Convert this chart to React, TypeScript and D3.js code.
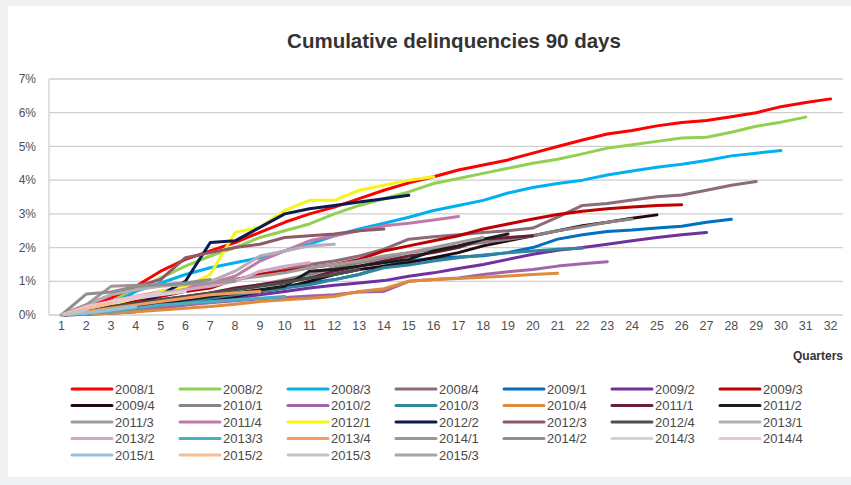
import React, { useEffect, useRef } from "react";
import * as d3 from "d3";

// x categories and y ticks
const quarters = ["1","2","3","4","5","6","7","8","9","10","11","12","13","14","15","16","17","18","19","20","21","22","23","24","25","26","27","28","29","30","31","32"];
const yTicks = [0, 1, 2, 3, 4, 5, 6, 7];
const yTickLabels = ["0%","1%","2%","3%","4%","5%","6%","7%"];

// cumulative delinquency (%) per vintage, one value per quarter since origination
const v2008_1 = [0,0.2,0.5,0.85,1.3,1.65,1.9,2.15,2.45,2.75,3.0,3.2,3.45,3.7,3.92,4.1,4.3,4.45,4.6,4.8,5.0,5.19,5.37,5.47,5.61,5.71,5.77,5.88,6.0,6.18,6.3,6.41];
const v2008_2 = [0,0.15,0.4,0.75,1.1,1.45,1.75,2.0,2.3,2.5,2.7,3.0,3.25,3.45,3.65,3.9,4.05,4.2,4.35,4.5,4.62,4.78,4.95,5.05,5.15,5.25,5.27,5.42,5.6,5.72,5.87];
const v2008_3 = [0,0.05,0.3,0.7,0.95,1.2,1.4,1.55,1.7,1.9,2.1,2.35,2.55,2.72,2.9,3.1,3.25,3.4,3.62,3.78,3.9,4.0,4.15,4.27,4.38,4.47,4.58,4.72,4.8,4.88];
const v2008_4 = [0,0.1,0.3,0.5,0.7,0.85,0.95,1.05,1.2,1.35,1.5,1.6,1.75,1.95,2.25,2.32,2.38,2.45,2.5,2.58,2.9,3.25,3.31,3.41,3.51,3.56,3.7,3.85,3.96];
const v2009_1 = [0,0.02,0.08,0.15,0.25,0.35,0.45,0.55,0.7,0.85,0.95,1.05,1.2,1.45,1.6,1.68,1.72,1.76,1.85,2.0,2.25,2.38,2.48,2.52,2.58,2.63,2.75,2.84];
const v2009_2 = [0,0.02,0.05,0.1,0.2,0.3,0.4,0.5,0.6,0.7,0.8,0.88,0.95,1.02,1.15,1.25,1.38,1.5,1.65,1.8,1.92,2.0,2.1,2.2,2.3,2.38,2.45];
const v2009_3 = [0,0.1,0.25,0.4,0.55,0.7,0.8,1.05,1.2,1.3,1.4,1.5,1.65,1.9,2.05,2.2,2.35,2.55,2.7,2.85,2.98,3.08,3.15,3.2,3.25,3.27];
const v2009_4 = [0,0.05,0.1,0.15,0.25,0.35,0.45,0.55,0.7,0.8,1.0,1.2,1.35,1.45,1.55,1.7,1.85,2.05,2.2,2.35,2.5,2.65,2.75,2.87,2.97];
const v2010_1 = [0,0.1,0.2,0.3,0.4,0.5,0.6,0.75,0.9,1.05,1.2,1.4,1.55,1.7,1.85,1.95,2.05,2.15,2.25,2.35,2.5,2.62,2.75,2.85];
const v2010_2 = [0,0.05,0.1,0.15,0.22,0.3,0.36,0.42,0.48,0.52,0.56,0.6,0.68,0.7,1.0,1.05,1.1,1.2,1.28,1.35,1.45,1.52,1.58];
const v2010_3 = [0,0.05,0.1,0.2,0.3,0.4,0.5,0.6,0.7,0.8,0.9,1.05,1.2,1.4,1.48,1.6,1.7,1.78,1.85,1.9,1.95,1.98];
const v2010_4 = [0,0.02,0.05,0.1,0.15,0.2,0.25,0.32,0.4,0.45,0.5,0.55,0.7,0.78,1.0,1.05,1.08,1.12,1.16,1.2,1.24];
const v2011_1 = [0,0.1,0.2,0.3,0.45,0.55,0.65,0.8,0.9,1.0,1.1,1.3,1.45,1.6,1.75,1.85,2.0,2.25,2.3,2.35];
const v2011_2 = [0,0.05,0.15,0.25,0.35,0.45,0.55,0.65,0.75,0.85,1.3,1.35,1.45,1.55,1.65,1.9,2.05,2.25,2.4];
const v2011_3 = [0,0.2,0.4,0.55,0.65,0.8,0.95,1.05,1.15,1.25,1.4,1.5,1.6,1.75,1.85,2.0,2.15,2.3];
const v2011_4 = [0,0.2,0.4,0.55,0.7,0.8,0.95,1.15,1.6,1.9,2.2,2.35,2.5,2.65,2.72,2.82,2.92];
const v2012_1 = [0,0.1,0.3,0.5,0.7,0.85,1.2,2.45,2.6,3.1,3.4,3.4,3.7,3.85,4.0,4.1];
const v2012_2 = [0,0.05,0.15,0.3,0.6,1.0,2.15,2.2,2.6,3.0,3.15,3.25,3.35,3.45,3.55];
const v2012_3 = [0,0.3,0.6,0.85,1.05,1.7,1.85,2.0,2.1,2.3,2.35,2.4,2.5,2.55];
const v2012_4 = [0,0.1,0.25,0.35,0.45,0.55,0.65,0.75,0.85,0.95,1.1,1.2,1.35];
const v2013_1 = [0,0.3,0.6,0.75,0.85,0.9,1.0,1.3,1.75,1.9,2.05,2.1];
const v2013_2 = [0,0.2,0.4,0.55,0.65,0.75,0.85,1.0,1.3,1.45,1.55];
const v2013_3 = [0,0.05,0.1,0.2,0.3,0.35,0.4,0.45,0.5,0.55];
const v2013_4 = [0,0.1,0.2,0.3,0.4,0.5,0.6,0.65,0.7];
const v2014_1 = [0,0.3,0.85,0.88,0.9,0.92,0.95,1.0];
const v2014_2 = [0,0.62,0.68,0.85,0.9,0.95,1.05];
const v2014_3 = [0,0.2,0.35,0.5,0.6,0.7];
const v2014_4 = [0,0.25,0.4,0.55,0.65];
const v2015_1 = [0,0.05,0.15,0.25];
const v2015_2 = [0,0.2,0.35];
const v2015_3 = [0,0.15];
const v2015_3b = [0];

const seriesNames = ["2008/1","2008/2","2008/3","2008/4","2009/1","2009/2","2009/3","2009/4","2010/1","2010/2","2010/3","2010/4","2011/1","2011/2","2011/3","2011/4","2012/1","2012/2","2012/3","2012/4","2013/1","2013/2","2013/3","2013/4","2014/1","2014/2","2014/3","2014/4","2015/1","2015/2","2015/3","2015/3"];
const seriesValues = [v2008_1,v2008_2,v2008_3,v2008_4,v2009_1,v2009_2,v2009_3,v2009_4,v2010_1,v2010_2,v2010_3,v2010_4,v2011_1,v2011_2,v2011_3,v2011_4,v2012_1,v2012_2,v2012_3,v2012_4,v2013_1,v2013_2,v2013_3,v2013_4,v2014_1,v2014_2,v2014_3,v2014_4,v2015_1,v2015_2,v2015_3,v2015_3b];
const seriesColors = ["#ff0000","#92d050","#00b0f0","#8c6b7a","#0070c0","#7030a0","#c00000","#200c10","#8c8484","#a066a8","#31859c","#e08a3c","#6b1f3a","#1c1c1c","#a29a9a","#c07aa8","#f5f51a","#0c1a4f","#8d5a66","#4d4d4d","#b5adb5","#d4a5c5","#4bacc6","#f59a62","#a39494","#8f8f8f","#d4d4d4","#ecc4d4","#93c4dc","#f9bd91","#c4c4c4","#a6a6a6"];

const W = 851;
const H = 485;
const FONT = "'Liberation Sans', Arial, sans-serif";

const App = () => {
  const svgRef = useRef<SVGSVGElement>(null);

  useEffect(() => {
    const svg = d3.select(svgRef.current);
    svg.selectAll("*").remove();

    // background: grey page, white chart card
    svg.append("rect").attr("width", W).attr("height", H).attr("fill", "#f0f1f3");
    svg.append("rect").attr("x", 8).attr("y", 6).attr("width", W - 8).attr("height", H - 14).attr("fill", "#ffffff");

    const x = d3.scalePoint<string>().domain(quarters).range([49, 843]).padding(0.5);
    const y = d3.scaleLinear().domain([0, 7]).range([315, 79]);

    // title
    svg.append("text")
      .attr("x", 454).attr("y", 48)
      .attr("text-anchor", "middle")
      .style("font-family", FONT).style("font-size", "20.5px").style("font-weight", "bold")
      .attr("fill", "#333333")
      .text("Cumulative delinquencies 90 days");

    // gridlines
    svg.append("g").selectAll("line")
      .data(yTicks)
      .join("line")
      .attr("x1", 49).attr("x2", 843)
      .attr("y1", d => y(d)).attr("y2", d => y(d))
      .attr("stroke", "#cfcfcf").attr("stroke-width", 1.3);

    svg.append("line")
      .attr("x1", 49).attr("x2", 49).attr("y1", y(7)).attr("y2", y(0))
      .attr("stroke", "#cfcfcf").attr("stroke-width", 1.3);

    // y labels
    svg.append("g").selectAll("text")
      .data(yTicks)
      .join("text")
      .attr("x", 36).attr("y", d => y(d))
      .attr("dy", "0.35em")
      .attr("text-anchor", "end")
      .style("font-family", FONT).style("font-size", "12px")
      .attr("fill", "#505050")
      .text((d, i) => yTickLabels[i]);

    // x labels
    svg.append("g").selectAll("text")
      .data(quarters)
      .join("text")
      .attr("x", d => x(d)!).attr("y", 330)
      .attr("text-anchor", "middle")
      .style("font-family", FONT).style("font-size", "12.5px")
      .attr("fill", "#505050")
      .text(d => d);

    svg.append("text")
      .attr("x", 843).attr("y", 360)
      .attr("text-anchor", "end")
      .style("font-family", FONT).style("font-size", "12px").style("font-weight", "bold")
      .attr("fill", "#333333")
      .text("Quarters");

    // lines
    const line = d3.line<number>()
      .x((d, i) => x(quarters[i])!)
      .y(d => y(d));

    svg.append("g").selectAll("path")
      .data(seriesValues)
      .join("path")
      .attr("d", d => line(d))
      .attr("fill", "none")
      .attr("stroke", (d, i) => seriesColors[i])
      .attr("stroke-width", 3)
      .attr("stroke-linejoin", "round")
      .attr("stroke-linecap", "round");

    // legend, 7 per row
    const leg = svg.append("g").selectAll("g")
      .data(seriesNames)
      .join("g")
      .attr("transform", (d, i) => `translate(${72 + (i % 7) * 108},${389 + Math.floor(i / 7) * 16.5})`);

    leg.append("line")
      .attr("x1", 0).attr("x2", 40)
      .attr("stroke", (d, i) => seriesColors[i])
      .attr("stroke-width", 3)
      .attr("stroke-linecap", "round");

    leg.append("text")
      .attr("x", 43).attr("dy", "0.35em")
      .style("font-family", FONT).style("font-size", "13px")
      .attr("fill", "#4a4a4a")
      .text(d => d);
  }, []);

  return (
    <div style={{ position: "absolute", left: 0, top: 0 }}>
      <svg ref={svgRef} width={W} height={H} style={{ display: "block" }} />
    </div>
  );
};

export default App;
